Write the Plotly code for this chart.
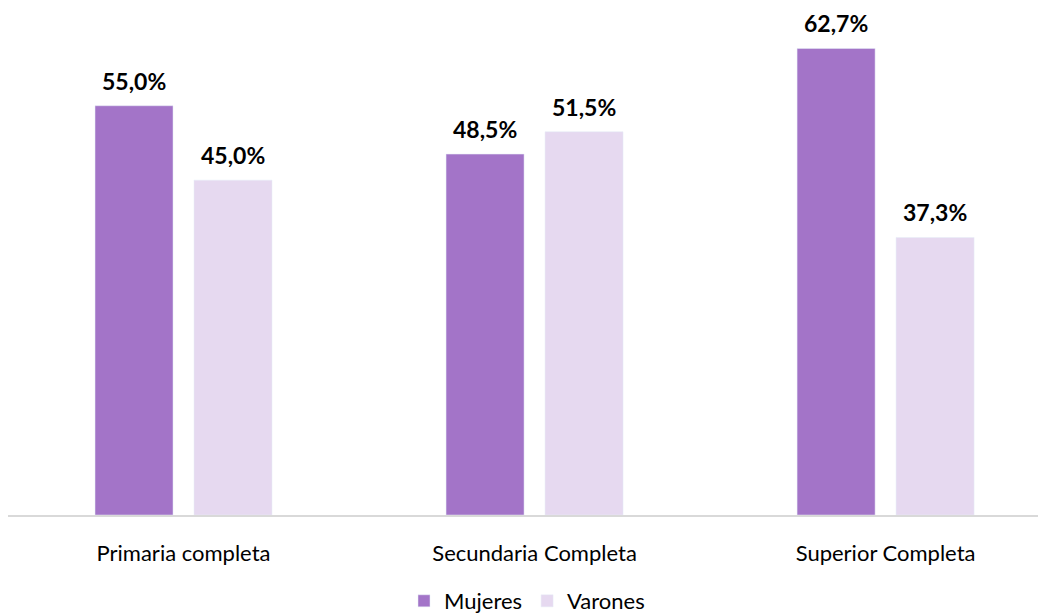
import plotly.graph_objects as go

categories = ["Primaria completa", "Secundaria Completa", "Superior Completa"]
mujeres = [55.0, 48.5, 62.7]
varones = [45.0, 51.5, 37.3]

FONT = "Lato"
C_MUJ = "#A374C8"
C_VAR = "#E6D9F0"

fig = go.Figure()
fig.add_trace(go.Bar(name="Mujeres", x=categories, y=mujeres, marker_color=C_MUJ))
fig.add_trace(go.Bar(name="Varones", x=categories, y=varones, marker_color=C_VAR))

def fmt(v):
    return f"<b>{v:.1f}%</b>".replace(".", ",")

for series, shift in ((mujeres, -49.5), (varones, 49.5)):
    for cat, v in zip(categories, series):
        fig.add_annotation(x=cat, y=v, text=fmt(v), showarrow=False,
                           xshift=shift, yshift=9, yanchor="bottom",
                           font=dict(family=FONT, size=23, color="#000000"))

fig.update_layout(
    width=1046, height=614,
    barmode="group", bargap=0.436, bargroupgap=0.212,
    plot_bgcolor="white", paper_bgcolor="white",
    margin=dict(l=0, r=8, t=1, b=106),
    font=dict(family=FONT, size=22, color="#000000"),
    xaxis=dict(range=[-0.5, 2.457], showline=True, linecolor="#D9D9D9", linewidth=2,
               ticks="", tickfont=dict(size=22, color="#000000"), showgrid=False,
               ticklabelstandoff=18),
    yaxis=dict(range=[0, 68], visible=False, showgrid=False),
    legend=dict(orientation="h", x=0.5, xanchor="center", y=-0.17, yanchor="middle",
                font=dict(size=22, color="#000000"), itemwidth=30, traceorder="normal"),
    showlegend=True,
)

fig.write_html("out.html")
